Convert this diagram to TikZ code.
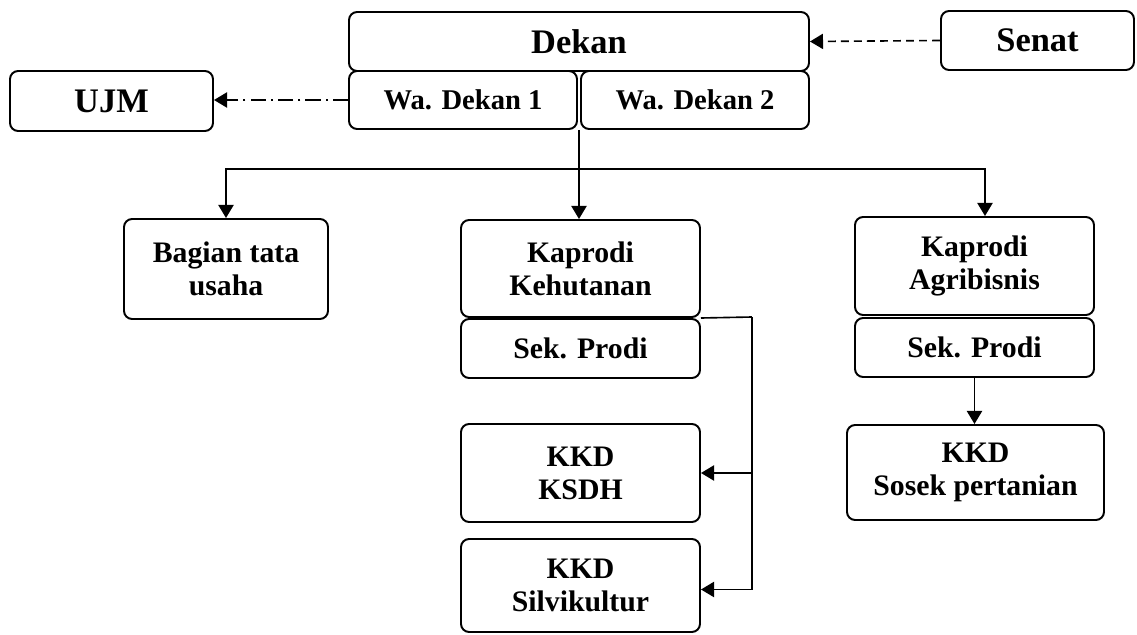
\documentclass[tikz,border=0pt]{standalone}
\usepackage{fontspec}
\setmainfont{Liberation Serif}
\usetikzlibrary{arrows.meta,calc,positioning}
\newcommand{\pxu}{0.43pt}
\begin{document}
\begin{tikzpicture}[x=0.43pt,y=-0.43pt,
every node/.style={draw,rounded corners=3.5pt,line width=0.85pt,align=center,inner sep=0pt,
  font=\fontsize{12.8}{14.2}\selectfont\bfseries},
box/.style 2 args={minimum width=#1*\pxu,minimum height=#2*\pxu},
head/.style={font=\fontsize{14.8}{16}\selectfont\bfseries},
arr/.style={line width=0.7pt,-{Triangle[length=5.6pt,width=6.5pt]}},
ln/.style={line width=0.7pt}]
\useasboundingbox (0,0) rectangle (1137,634);
\node[box={460}{59},head] (Dekan) at (579,41.5) {Dekan};
\node[box={228}{58},font=\fontsize{12.3}{14}\selectfont\bfseries] (WD1) at (463,100) {Wa. Dekan 1};
\node[box={228}{58},font=\fontsize{12.3}{14}\selectfont\bfseries] (WD2) at (695,100) {Wa. Dekan 2};
\node[box={193}{59},head] (Senat) at (1037.5,40.5) {Senat};
\node[box={203}{60},head] (UJM) at (111.5,101) {UJM};
\node[box={204}{100}] (Bagian) at (226,269) {Bagian tata\\usaha};
\node[box={239}{97}] (KapK) at (580.5,268.5) {Kaprodi\\Kehutanan};
\node[box={239}{59}] (SekK) at (580.5,348.5) {Sek. Prodi};
\node[box={239}{98}] (KSDH) at (580.5,473) {KKD\\KSDH};
\node[box={239}{93}] (Silv) at (580.5,585.5) {KKD\\Silvikultur};
\node[box={239}{98}] (KapA) at (974.5,266) {Kaprodi\\Agribisnis};
\node[box={239}{59}] (SekA) at (974.5,347.5) {Sek. Prodi};
\node[box={257}{95}] (Sosek) at (975.5,472.5) {KKD\\Sosek pertanian};
\coordinate (split) at (579,169);
\coordinate (br) at (752,317);
\draw[arr,dash pattern=on 3.4pt off 2.2pt] (Senat.west) -- (Dekan.east);
\draw[arr,dash pattern=on 6.5pt off 2.2pt on 0.9pt off 2.2pt] (WD1.west) -- (WD1.west -| UJM.east);
\draw[ln] (Dekan.center |- WD1.south) -- (split);
\draw[arr] (split) -| (Bagian.north);
\draw[arr] (split) -- (split |- KapK.north);
\draw[arr] (split) -| ([xshift=10.5*\pxu]KapA.north);
\draw[ln] (KapK.south east) -- (br);
\draw[arr] (br) |- (KSDH.east);
\draw[arr] (br) |- ([yshift=-4*\pxu]Silv.east);
\draw[arr] (SekA.south) -- (SekA.south |- Sosek.north);
\end{tikzpicture}
\end{document}
